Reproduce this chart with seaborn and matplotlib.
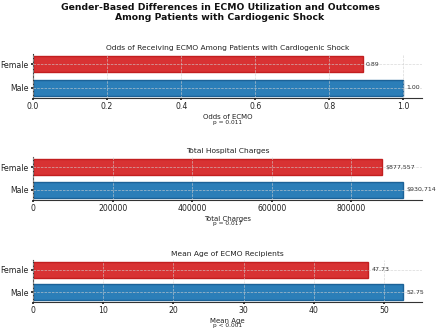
import matplotlib
matplotlib.use("Agg")
import matplotlib.pyplot as plt
import seaborn as sns
import pandas as pd

genders = ["Male", "Female"]
odds = [1.00, 0.89]
charges = [930714, 877557]
ages = [52.75, 47.73]

panel_titles = ["Odds of Receiving ECMO Among Patients with Cardiogenic Shock",
                "Total Hospital Charges",
                "Mean Age of ECMO Recipients"]
xlabels = ["Odds of ECMO", "Total Charges", "Mean Age"]
pvalues = ["p = 0.011", "p = 0.017", "p < 0.001"]
label_fmt = ["{:.2f}", "${:,.0f}", "{:.2f}"]

sns.set_theme(style="white")
plt.rcParams["font.family"] = ["DejaVu Sans"]

palette = {"Female": "#d62728", "Male": "#1f77b4"}
edges = {"Female": "#c01818", "Male": "#165d94"}

W, H = 440, 333
fig = plt.figure(figsize=(4.4, 3.33), dpi=100)
fig.suptitle("Gender-Based Differences in ECMO Utilization and Outcomes\nAmong Patients with Cardiogenic Shock",
             fontsize=6.7, fontweight="bold", y=1 - 3 / H, va="top", x=0.5, color="#111111")

boxes = [(54, 98), (157, 200), (260, 302)]
series = [odds, charges, ages]
left, right = 33, 422

for i, (vals, (top, bot)) in enumerate(zip(series, boxes)):
    ax = fig.add_axes([left / W, 1 - bot / H, (right - left) / W, (bot - top) / H])
    df = pd.DataFrame({"Gender": genders, "Value": vals})
    sns.barplot(data=df, y="Gender", x="Value", hue="Gender", order=["Female", "Male"],
                palette=palette, orient="h", width=0.7, ax=ax, legend=False,
                linewidth=1.0, saturation=1, alpha=0.95)
    for patch in ax.patches:
        yc = patch.get_y() + patch.get_height() / 2
        g = "Female" if yc < 0.5 else "Male"
        patch.set_edgecolor(edges[g])
    xmax = max(vals) * 1.05
    ax.set_xlim(0, xmax)
    ax.set_ylim(1.435, -0.435)
    for g, v in zip(genders, vals):
        ypos = 0 if g == "Female" else 1
        ax.text(v + xmax * 0.008, ypos, label_fmt[i].format(v), va="center", ha="left",
                fontsize=4.5, color="#333333")
    ax.set_title(panel_titles[i], fontsize=5.4, pad=3, color="#222222")
    ax.set_xlabel(xlabels[i], fontsize=5.0, labelpad=2, color="#222222")
    ax.text(0.5, -0.50, pvalues[i], transform=ax.transAxes, ha="center", va="top",
            fontsize=4.2, color="#222222")
    ax.set_ylabel("")
    ax.tick_params(axis="both", labelsize=5.6, length=1.5, pad=1.5, colors="#222222", left=True, bottom=True)
    ax.grid(True, linestyle="--", linewidth=0.5, color="#d0d0d0", alpha=0.8)
    ax.set_axisbelow(False)
    for s in ["top", "right"]:
        ax.spines[s].set_visible(False)
    for s in ["left", "bottom"]:
        ax.spines[s].set_color("#333333")
        ax.spines[s].set_linewidth(0.8)
    if i == 1:
        ax.ticklabel_format(axis="x", style="plain")

fig.savefig("out.png", dpi=100)
